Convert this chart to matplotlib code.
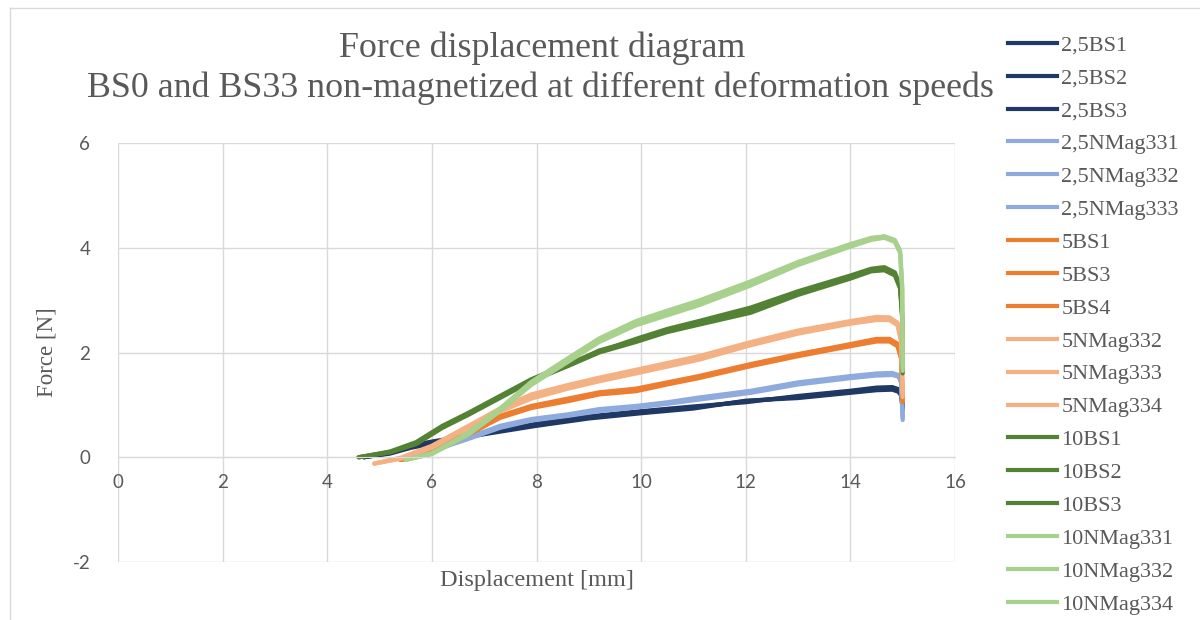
import matplotlib
matplotlib.use("Agg")
import matplotlib.pyplot as plt
from matplotlib.lines import Line2D

plt.rcParams["axes.unicode_minus"] = False

# readings, displacement [mm] / force [N]
x_25bs = [4.7, 5.2, 5.6, 6.0, 6.5, 7.0, 7.5, 8.0, 9.0, 10.0, 11.0, 12.0, 13.0, 14.0, 14.5, 14.8, 14.92, 14.97, 15.0]
f_25bs1 = [0.0, 0.08, 0.2, 0.28, 0.36, 0.45, 0.54, 0.62, 0.76, 0.86, 0.95, 1.07, 1.15, 1.25, 1.3, 1.31, 1.28, 1.2, 0.95]
f_25bs2 = [0.0, 0.1, 0.22, 0.3, 0.38, 0.47, 0.55, 0.64, 0.78, 0.88, 0.97, 1.05, 1.17, 1.27, 1.33, 1.34, 1.3, 1.22, 1.0]
f_25bs3 = [0.0, 0.07, 0.18, 0.26, 0.35, 0.44, 0.52, 0.6, 0.74, 0.84, 0.93, 1.08, 1.13, 1.23, 1.28, 1.29, 1.25, 1.18, 0.9]

x_25nm = [5.6, 6.0, 6.4, 6.7, 7.3, 7.9, 8.6, 9.2, 9.9, 10.5, 11.1, 12.1, 13.0, 14.0, 14.5, 14.8, 14.92, 14.97, 15.0]
f_25nm1 = [0.0, 0.12, 0.27, 0.36, 0.58, 0.71, 0.8, 0.9, 0.96, 1.03, 1.12, 1.25, 1.41, 1.53, 1.58, 1.59, 1.56, 1.45, 0.71]
f_25nm2 = [0.0, 0.13, 0.28, 0.38, 0.6, 0.73, 0.82, 0.92, 0.98, 1.05, 1.14, 1.27, 1.43, 1.55, 1.6, 1.61, 1.57, 1.46, 0.8]
f_25nm3 = [0.0, 0.11, 0.25, 0.35, 0.56, 0.7, 0.79, 0.88, 0.95, 1.02, 1.1, 1.23, 1.39, 1.51, 1.56, 1.57, 1.54, 1.43, 0.75]

x_5bs = [5.4, 5.9, 6.35, 6.7, 7.3, 7.9, 8.6, 9.2, 9.9, 10.5, 11.1, 12.1, 13.0, 14.0, 14.5, 14.75, 14.9, 14.97, 15.0]
f_5bs1 = [-0.05, 0.05, 0.27, 0.45, 0.77, 0.96, 1.09, 1.22, 1.28, 1.41, 1.53, 1.76, 1.95, 2.14, 2.24, 2.24, 2.15, 1.9, 1.1]
f_5bs3 = [-0.05, 0.06, 0.29, 0.47, 0.79, 0.98, 1.12, 1.24, 1.31, 1.43, 1.55, 1.78, 1.97, 2.16, 2.26, 2.26, 2.17, 1.92, 1.15]
f_5bs4 = [-0.05, 0.04, 0.25, 0.43, 0.75, 0.94, 1.07, 1.2, 1.26, 1.39, 1.51, 1.74, 1.93, 2.12, 2.21, 2.21, 2.12, 1.88, 1.05]

x_5nm = [4.9, 5.4, 6.0, 6.7, 7.3, 7.9, 8.6, 9.2, 9.9, 10.5, 11.1, 12.1, 13.0, 14.0, 14.5, 14.75, 14.9, 14.97, 15.0]
f_5nm2 = [-0.12, -0.02, 0.2, 0.58, 0.9, 1.15, 1.34, 1.47, 1.63, 1.76, 1.89, 2.17, 2.39, 2.58, 2.66, 2.66, 2.55, 2.25, 1.2]
f_5nm3 = [-0.12, -0.01, 0.22, 0.6, 0.93, 1.2, 1.38, 1.52, 1.67, 1.8, 1.93, 2.2, 2.42, 2.6, 2.68, 2.67, 2.57, 2.28, 1.25]
f_5nm4 = [-0.12, -0.03, 0.18, 0.56, 0.87, 1.12, 1.31, 1.45, 1.6, 1.73, 1.86, 2.14, 2.36, 2.55, 2.62, 2.62, 2.52, 2.2, 1.15]

x_10bs = [4.6, 5.2, 5.7, 6.2, 6.7, 7.3, 7.9, 8.6, 9.2, 9.9, 10.5, 11.1, 12.1, 13.0, 14.0, 14.4, 14.65, 14.85, 14.95, 14.99, 15.0]
f_10bs1 = [0.0, 0.1, 0.27, 0.58, 0.83, 1.15, 1.47, 1.76, 2.04, 2.23, 2.42, 2.56, 2.8, 3.13, 3.44, 3.58, 3.6, 3.5, 3.25, 2.7, 1.65]
f_10bs2 = [0.0, 0.11, 0.29, 0.6, 0.85, 1.17, 1.49, 1.78, 2.02, 2.26, 2.45, 2.6, 2.86, 3.17, 3.47, 3.6, 3.63, 3.53, 3.28, 2.75, 1.6]
f_10bs3 = [0.0, 0.09, 0.25, 0.56, 0.81, 1.13, 1.45, 1.74, 2.0, 2.2, 2.39, 2.53, 2.76, 3.1, 3.41, 3.55, 3.57, 3.47, 3.22, 2.65, 1.7]

x_10nm = [5.5, 6.0, 6.7, 7.3, 7.9, 8.6, 9.2, 9.9, 10.5, 11.1, 12.1, 13.0, 14.0, 14.4, 14.65, 14.85, 14.95, 14.99, 15.0]
f_10nm1 = [-0.05, 0.07, 0.45, 0.9, 1.41, 1.85, 2.23, 2.56, 2.75, 2.94, 3.32, 3.7, 4.05, 4.18, 4.22, 4.15, 3.95, 3.3, 1.7]
f_10nm2 = [-0.05, 0.08, 0.47, 0.93, 1.44, 1.89, 2.27, 2.6, 2.8, 2.99, 3.36, 3.73, 4.07, 4.19, 4.21, 4.13, 3.93, 3.25, 1.75]
f_10nm4 = [-0.05, 0.06, 0.43, 0.88, 1.38, 1.82, 2.2, 2.52, 2.71, 2.9, 3.28, 3.67, 4.02, 4.15, 4.19, 4.11, 3.9, 3.2, 1.65]

names = ["2,5BS1", "2,5BS2", "2,5BS3", "2,5NMag331", "2,5NMag332", "2,5NMag333",
         "5BS1", "5BS3", "5BS4", "5NMag332", "5NMag333", "5NMag334",
         "10BS1", "10BS2", "10BS3", "10NMag331", "10NMag332", "10NMag334"]
xs = [x_25bs] * 3 + [x_25nm] * 3 + [x_5bs] * 3 + [x_5nm] * 3 + [x_10bs] * 3 + [x_10nm] * 3
ys = [f_25bs1, f_25bs2, f_25bs3, f_25nm1, f_25nm2, f_25nm3,
      f_5bs1, f_5bs3, f_5bs4, f_5nm2, f_5nm3, f_5nm4,
      f_10bs1, f_10bs2, f_10bs3, f_10nm1, f_10nm2, f_10nm4]
colors = ["#203864"] * 3 + ["#8faadc"] * 3 + ["#ed7d31"] * 3 + ["#f4b183"] * 3 + ["#548235"] * 3 + ["#a9d18e"] * 3

grey = "#595959"
gridc = "#d9d9d9"
serif = "Liberation Serif"

fig = plt.figure(figsize=(12, 6.2), dpi=100)
ax = fig.add_axes([118 / 1200, 1 - 562 / 620, (955 - 118) / 1200, (562 - 143) / 620])

for x, y, c, n in zip(xs, ys, colors, names):
    ax.plot(x, y, color=c, lw=3, label=n, solid_capstyle="round", solid_joinstyle="round")

ax.set_xlim(0, 16)
ax.set_ylim(-2, 6)
ax.set_xticks(range(0, 17, 2))
ax.set_yticks(range(-2, 7, 2))
ax.grid(True, color=gridc, lw=1)
ax.set_axisbelow(True)
for s in ["top", "right", "left"]:
    ax.spines[s].set_visible(False)
ax.spines["bottom"].set_position(("data", 0))
ax.spines["bottom"].set_color(gridc)
ax.tick_params(length=0, colors=grey, labelsize=13.5)
ax.tick_params(axis="y", pad=20)
ax.tick_params(axis="x", pad=12)
for lab in ax.get_xticklabels() + ax.get_yticklabels():
    lab.set_family("Lato")

ax.set_xlabel("Displacement [mm]", family=serif, fontsize=17.5, color=grey)
ax.xaxis.set_label_coords(0.5, -0.018)
ax.set_ylabel("Force [N]", family=serif, fontsize=16.5, color=grey)
ax.yaxis.set_label_coords(-0.072, 0.5)

fig.text(0.452, 1 - 48 / 620, "Force displacement diagram", family=serif, fontsize=25.8,
         color=grey, ha="center", va="center")
fig.text(0.45, 1 - 88 / 620, "BS0 and BS33 non-magnetized at different deformation speeds",
         family=serif, fontsize=25.8, color=grey, ha="center", va="center")

handles = [Line2D([], [], color=c, lw=3) for c in colors]
leg = fig.legend(handles, names, loc="upper left", bbox_to_anchor=(1008 / 1200, 1 - 35 / 620),
                 frameon=False, borderpad=0, borderaxespad=0,
                 handlelength=2.2, handletextpad=0.2, labelspacing=0.555,
                 prop={"family": serif, "size": 16})
for t in leg.get_texts():
    t.set_color(grey)

# outer chart frame
fig.add_artist(Line2D([10 / 1200, 10 / 1200], [0, 1 - 8 / 620], color=gridc, lw=1))
fig.add_artist(Line2D([10 / 1200, 1], [1 - 8 / 620, 1 - 8 / 620], color=gridc, lw=1))

fig.savefig("out.png", dpi=100)
